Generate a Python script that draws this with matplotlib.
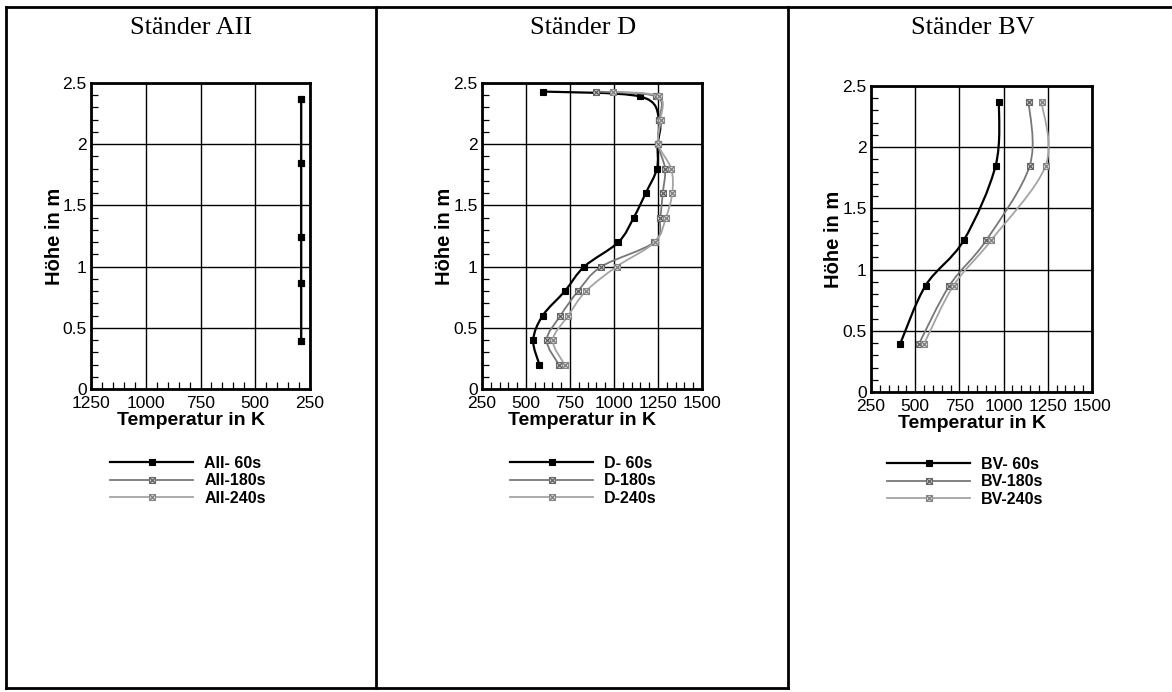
"""Three-panel temperature/height profiles (Ständer AII, D, BV) at 60/180/240 s."""
import matplotlib

matplotlib.use("Agg")
import matplotlib.pyplot as plt
import numpy as np
from matplotlib.legend_handler import HandlerTuple
from matplotlib.lines import Line2D
from matplotlib.patches import PathPatch
from matplotlib.path import Path
from matplotlib.ticker import FuncFormatter, MultipleLocator

W, H = 1172, 692

# ---- data -------------------------------------------------------------------
heights_aii = [0.39, 0.87, 1.24, 1.85, 2.37]
aii_60 = [290, 290, 290, 290, 290]
aii_180 = [291, 291, 291, 291, 291]
aii_240 = [292, 292, 292, 292, 292]

heights_d = [0.2, 0.4, 0.6, 0.8, 1.0, 1.2, 1.4, 1.6, 1.8, 2.0, 2.2, 2.39, 2.43]
d_60 = [576, 541, 595, 721, 831, 1025, 1112, 1180, 1244, 1248, 1258, 1147, 595]
d_180 = [686, 618, 696, 796, 928, 1229, 1262, 1277, 1290, 1250, 1258, 1240, 895]
d_240 = [719, 653, 740, 841, 1015, 1232, 1295, 1331, 1325, 1252, 1265, 1255, 996]

heights_bv = [0.39, 0.87, 1.24, 1.85, 2.37]
bv_60 = [414, 559, 775, 955, 974]
bv_180 = [520, 694, 902, 1148, 1142]
bv_240 = [549, 717, 930, 1238, 1215]

ticks_rev = [1250, 1000, 750, 500, 250]
ticks_fwd = [250, 500, 750, 1000, 1250, 1500]

# ---- styling ----------------------------------------------------------------
SANS = "Liberation Sans"
SERIF = "Liberation Serif"
STYLES = [
    dict(color="black", lw=1.6, mfc="black", mec="black", cross=None),
    dict(color="#777777", lw=1.3, mfc="#cfcfcf", mec="#6a6a6a", cross="#5e5e5e"),
    dict(color="#a4a4a4", lw=1.3, mfc="#dcdcdc", mec="#8a8a8a", cross="#7c7c7c"),
]


def px_rect(l, t, r, b):
    return [l / W, 1 - b / H, (r - l) / W, (b - t) / H]


def smooth_line(ax, temps, heights, st, zorder):
    # Catmull-Rom through the measured points, as cubic Beziers in pixel space
    pts = ax.transData.transform(np.column_stack([temps, heights]))
    p = np.vstack([pts[0], pts, pts[-1]])
    verts, codes = [pts[0]], [Path.MOVETO]
    for i in range(1, len(p) - 2):
        p0, p1, p2, p3 = p[i - 1], p[i], p[i + 1], p[i + 2]
        verts += [p1 + (p2 - p0) / 6, p2 - (p3 - p1) / 6, p2]
        codes += [Path.CURVE4] * 3
    verts = ax.transData.inverted().transform(np.array(verts))
    ax.add_patch(PathPatch(Path(verts, codes), fill=False, edgecolor=st["color"],
                           lw=st["lw"], zorder=zorder, capstyle="round"))
    ax.plot(temps, heights, ls="none", marker="s", ms=5, mfc=st["mfc"],
            mec=st["mec"], mew=0.8, zorder=zorder + 0.01)
    if st["cross"]:
        ax.plot(temps, heights, ls="none", marker="x", ms=4, mec=st["cross"],
                mew=0.9, zorder=zorder + 0.02)


def legend_handle(st):
    line = Line2D([], [], color=st["color"], lw=st["lw"], marker="s", ms=5,
                  mfc=st["mfc"], mec=st["mec"], mew=0.8)
    if not st["cross"]:
        return line
    cross = Line2D([], [], ls="none", marker="x", ms=4, mec=st["cross"], mew=0.9)
    return (line, cross)


def style_axis(ax, xlim, xticks):
    ax.set_xlim(*xlim)
    ax.set_ylim(0, 2.5)
    ax.set_xticks(xticks)
    ax.xaxis.set_minor_locator(MultipleLocator(50))
    ax.yaxis.set_major_locator(MultipleLocator(0.5))
    ax.yaxis.set_minor_locator(MultipleLocator(0.1))
    ax.yaxis.set_major_formatter(FuncFormatter(lambda v, _: f"{v:g}"))
    ax.grid(True, which="major", color="black", linewidth=1.0, zorder=1)
    ax.tick_params(which="both", direction="in", top=False, right=False,
                   labelsize=12.5)
    ax.tick_params(axis="x", which="major", pad=5)
    ax.tick_params(axis="y", which="major", pad=3)
    ax.tick_params(which="major", length=0)
    ax.tick_params(which="minor", length=5, width=0.9)
    for lab in ax.get_xticklabels() + ax.get_yticklabels():
        lab.set_fontfamily(SANS)
    for s in ax.spines.values():
        s.set_linewidth(2.0)
    ax.set_xlabel("Temperatur in K", fontsize=14, fontweight="bold", fontfamily=SANS)
    ax.xaxis.set_label_coords(0.455, -0.075)
    ax.set_ylabel("Höhe in m", fontsize=14.5, fontweight="bold", fontfamily=SANS)
    ax.yaxis.set_label_coords(-0.125, 0.5)


fig = plt.figure(figsize=(W / 100, H / 100), dpi=100, facecolor="white")

# outer frame and dividers of the scanned table
frame = [
    ([6, 6], [7, 688]),
    ([6, 1172], [7, 7]),
    ([6, 788], [688, 688]),
    ([376, 376], [7, 688]),
    ([788, 788], [7, 688]),
]
for xs, ys in frame:
    fig.add_artist(Line2D([x / W for x in xs], [1 - y / H for y in ys],
                          transform=fig.transFigure, color="black", lw=2.0))

# (title, tag, rect, xlim, xticks, heights, series, legend corner, draw order)
panels = [
    ("Ständer AII", "AII", px_rect(91, 83, 310, 389), (1250, 250), ticks_rev,
     heights_aii, [aii_60, aii_180, aii_240], (110, 456), (2, 1, 0)),
    ("Ständer D", "D", px_rect(482, 83, 702, 389), (250, 1500), ticks_fwd,
     heights_d, [d_60, d_180, d_240], (510, 456), (0, 1, 2)),
    ("Ständer BV", "BV", px_rect(871, 86, 1092, 392), (250, 1500), ticks_fwd,
     heights_bv, [bv_60, bv_180, bv_240], (887, 457), (0, 1, 2)),
]

for title, tag, rect, xlim, xticks, hts, series, (lx, ly), order in panels:
    ax = fig.add_axes(rect)
    style_axis(ax, xlim, xticks)
    for rank, k in enumerate(order):
        smooth_line(ax, series[k], hts, STYLES[k], zorder=3 + rank * 0.1)
    cx = rect[0] + rect[2] / 2 - 9 / W
    fig.text(cx, 1 - 28 / H, title, ha="center", va="center",
             fontsize=19, fontfamily=SERIF)

    handles = [legend_handle(st) for st in STYLES]
    labels = [f"{tag}- 60s", f"{tag}-180s", f"{tag}-240s"]
    fig.legend(handles, labels, loc="upper left",
               bbox_to_anchor=(lx / W, 1 - ly / H), bbox_transform=fig.transFigure,
               frameon=False, numpoints=1, handlelength=5.2, handletextpad=0.7,
               borderpad=0, borderaxespad=0, labelspacing=0.15,
               handler_map={tuple: HandlerTuple(ndivide=1)},
               prop=dict(family=SANS, weight="bold", size=11.5))

fig.savefig("out.png", dpi=100, facecolor="white")
